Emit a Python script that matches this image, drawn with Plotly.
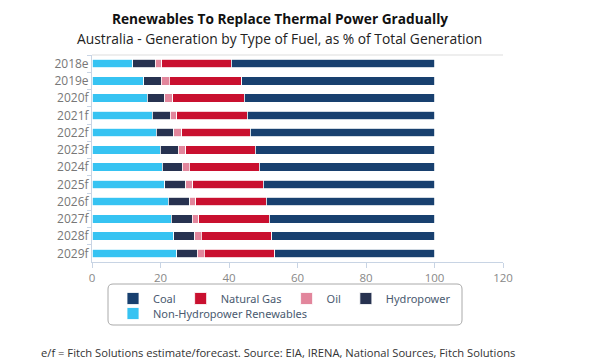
import plotly.graph_objects as go

years = ["2018e", "2019e", "2020f", "2021f", "2022f", "2023f", "2024f",
         "2025f", "2026f", "2027f", "2028f", "2029f"]
non_hydro = [11.9, 15.1, 16.2, 17.6, 18.7, 19.9, 20.5, 21.2, 22.2, 23.1, 23.9, 24.7]
hydro = [6.5, 5.1, 5.1, 5.2, 5.2, 5.3, 5.8, 6.2, 6.4, 6.1, 6.1, 6.0]
oil = [2.0, 2.3, 2.3, 1.9, 2.3, 2.1, 2.1, 2.0, 1.7, 1.9, 1.9, 2.1]
gas = [20.2, 21.2, 20.9, 20.7, 20.0, 20.4, 20.4, 20.6, 20.6, 20.6, 20.6, 20.5]
coal = [59.4, 56.3, 55.5, 54.6, 53.8, 52.3, 51.2, 50.0, 49.1, 48.3, 47.5, 46.7]
x_ticks = [0, 20, 40, 60, 80, 100, 120]

series = [
    ("Non-Hydropower Renewables", non_hydro, "#36c3f2", "legend2"),
    ("Hydropower", hydro, "#273250", "legend"),
    ("Oil", oil, "#e2869c", "legend"),
    ("Natural Gas", gas, "#c9102f", "legend"),
    ("Coal", coal, "#18406f", "legend"),
]

# The page body has an 8px default margin; layout is expressed in page pixels
OFF = 8
W, H = 600, 360
P_L, P_R, P_T, P_B = 92, 503, 55, 262          # plot area on the page
ML, MT = P_L - OFF, P_T - OFF
MR, MB = W - (P_R - OFF), H - (P_B - OFF)
PW, PH = P_R - P_L, P_B - P_T


def px(p):
    return (p - P_L) / PW


def py(p):
    return (P_B - p) / PH


fig = go.Figure()
for name, vals, col, leg in series:
    fig.add_trace(go.Bar(
        y=years, x=vals, name=name, orientation="h", legend=leg,
        marker=dict(color=col, line=dict(width=0.8, color="white")),
    ))

legend_font = dict(family="Noto Sans", size=11, color="#4a5a70")
leg_left = 113

fig.update_layout(
    width=W, height=H,
    barmode="stack", bargap=0.52,
    plot_bgcolor="white", paper_bgcolor="white",
    margin=dict(l=ML, r=MR, t=MT, b=MB, autoexpand=False),
    font=dict(family="Open Sans", size=11, color="#666666"),
    showlegend=True,
    legend=dict(
        orientation="h", traceorder="reversed",
        x=px(leg_left), xanchor="left", y=py(284), yanchor="top",
        bgcolor="rgba(0,0,0,0)", borderwidth=0,
        font=legend_font, itemclick=False,
    ),
    legend2=dict(
        orientation="h",
        x=px(leg_left), xanchor="left", y=py(299), yanchor="top",
        bgcolor="rgba(0,0,0,0)", borderwidth=0,
        font=legend_font, itemclick=False,
    ),
    xaxis=dict(
        range=[0, 120], tickvals=x_ticks, showgrid=False, zeroline=False,
        showline=True, linecolor="#c8d4e4", linewidth=1,
        ticks="outside", ticklen=5, tickcolor="#c8d4e4",
        tickfont=dict(family="Open Sans", size=11.5, color="#888888"),
    ),
    yaxis=dict(
        autorange="reversed", showgrid=False, zeroline=False,
        showline=True, linecolor="#c8d4e4", linewidth=1,
        ticks="outside", ticklen=4, tickcolor="#c8d4e4",
        tickson="boundaries",
        tickfont=dict(family="Open Sans", size=12, color="#777777"),
    ),
    shapes=[
        dict(type="line", xref="paper", yref="paper", x0=0, x1=1, y0=1, y1=1,
             line=dict(color="#dddddd", width=1)),
    ],
    annotations=[
        dict(text="<b>Renewables To Replace Thermal Power Gradually</b>",
             xref="paper", yref="paper", x=px(280), y=py(19), yanchor="middle",
             showarrow=False, font=dict(family="Open Sans", size=13.7, color="#111111")),
        dict(text="Australia - Generation by Type of Fuel, as % of Total Generation",
             xref="paper", yref="paper", x=px(279), y=py(38), yanchor="middle",
             showarrow=False, font=dict(family="Open Sans", size=13.8, color="#222222")),
        dict(text="e/f = Fitch Solutions estimate/forecast. Source: EIA, IRENA, National Sources, Fitch Solutions",
             xref="paper", yref="paper", x=px(39), y=py(352), xanchor="left", yanchor="middle",
             showarrow=False, font=dict(family="Open Sans", size=11.2, color="#333333")),
    ],
)

# rounded legend box
x0, x1, y0, y1, r = 108, 462, 284, 325, 5
path = (f"M {px(x0 + r)} {py(y0)} L {px(x1 - r)} {py(y0)} "
        f"Q {px(x1)} {py(y0)} {px(x1)} {py(y0 + r)} L {px(x1)} {py(y1 - r)} "
        f"Q {px(x1)} {py(y1)} {px(x1 - r)} {py(y1)} L {px(x0 + r)} {py(y1)} "
        f"Q {px(x0)} {py(y1)} {px(x0)} {py(y1 - r)} L {px(x0)} {py(y0 + r)} "
        f"Q {px(x0)} {py(y0)} {px(x0 + r)} {py(y0)} Z")
fig.add_shape(type="path", xref="paper", yref="paper", path=path,
              line=dict(color="#aaaaaa", width=1))

fig.write_html("out.html")
